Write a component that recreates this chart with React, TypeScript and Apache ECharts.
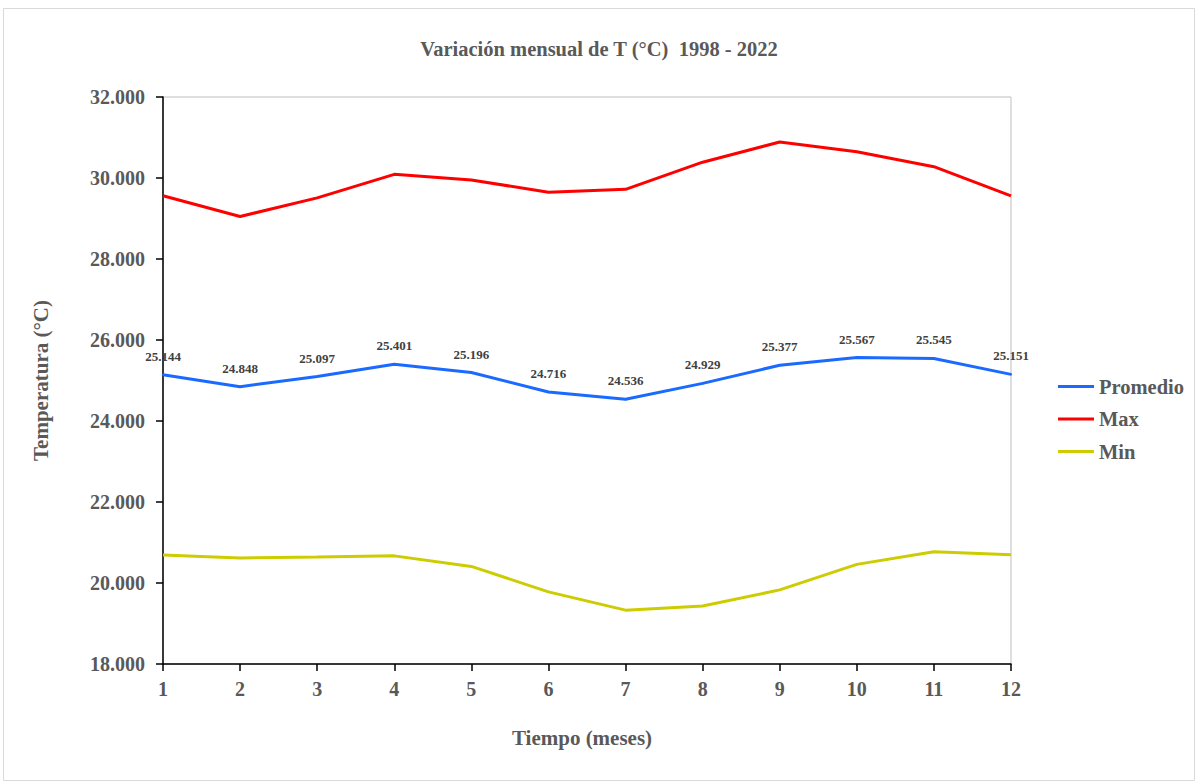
import React, { useEffect, useRef } from "react";
import * as echarts from "echarts";

const months = ["1", "2", "3", "4", "5", "6", "7", "8", "9", "10", "11", "12"];
const promedio = [25.144, 24.848, 25.097, 25.401, 25.196, 24.716, 24.536, 24.929, 25.377, 25.567, 25.545, 25.151];
const maxT = [29.56, 29.05, 29.51, 30.09, 29.95, 29.65, 29.72, 30.39, 30.89, 30.65, 30.28, 29.56];
const minT = [20.69, 20.62, 20.64, 20.67, 20.41, 19.78, 19.33, 19.43, 19.83, 20.46, 20.77, 20.7];

const FONT = "'Times New Roman', 'Liberation Serif', 'DejaVu Serif', serif";
const GRAY = "#595959";

export default function App() {
  const ref = useRef<HTMLDivElement>(null);
  useEffect(() => {
    if (!ref.current) return;
    const chart = echarts.init(ref.current, undefined, { renderer: "svg" });
    chart.setOption({
      animation: false,
      backgroundColor: "#ffffff",
      textStyle: { fontFamily: FONT },
      title: {
        text: "Variación mensual de T (°C)  1998 - 2022",
        left: 594,
        textAlign: "center",
        top: 33,
        textStyle: { fontFamily: FONT, fontWeight: "bold", fontSize: 20.5, color: GRAY },
      },
      graphic: [
        {
          type: "rect",
          shape: { x: 3.5, y: 8.5, width: 1191, height: 772 },
          style: { fill: "none", stroke: "#d9d9d9", lineWidth: 1 },
          silent: true,
        },
      ],
      grid: {
        left: 163,
        right: 189,
        top: 97,
        bottom: 119,
        show: true,
        borderColor: "#bfbfbf",
        borderWidth: 1,
      },
      legend: {
        orient: "vertical",
        left: 1053,
        top: 371,
        itemWidth: 36,
        itemHeight: 3,
        itemGap: 11.5,
        icon: "rect",
        data: ["Promedio", "Max", "Min"],
        textStyle: { fontFamily: FONT, fontWeight: "bold", fontSize: 20.5, color: GRAY },
      },
      xAxis: {
        type: "category",
        data: months,
        boundaryGap: false,
        name: "Tiempo (meses)",
        nameLocation: "middle",
        nameGap: 63,
        nameTextStyle: { fontFamily: FONT, fontWeight: "bold", fontSize: 21, color: GRAY, padding: [0, 10, 0, 0] },
        axisLine: { lineStyle: { color: "#000", width: 1.5 } },
        axisTick: { show: true, length: 7, lineStyle: { color: "#000", width: 1.5 } },
        axisLabel: { fontFamily: FONT, fontWeight: "bold", fontSize: 20, color: GRAY, margin: 15 },
      },
      yAxis: {
        type: "value",
        min: 18,
        max: 32,
        interval: 2,
        name: "Temperatura (°C)",
        nameLocation: "middle",
        nameGap: 112,
        nameRotate: 90,
        nameTextStyle: { fontFamily: FONT, fontWeight: "bold", fontSize: 21, color: GRAY },
        axisLine: { show: true, lineStyle: { color: "#000", width: 1.5 } },
        axisTick: { show: true, length: 7, lineStyle: { color: "#000", width: 1.5 } },
        splitLine: { show: false },
        axisLabel: {
          fontFamily: FONT,
          fontWeight: "bold",
          fontSize: 20,
          color: GRAY,
          margin: 18,
          formatter: (v: number) => v.toFixed(3),
        },
      },
      series: [
        {
          name: "Promedio",
          type: "line",
          data: promedio,
          symbol: "circle",
          symbolSize: 2,
          showSymbol: true,
          showAllSymbol: true,
          lineStyle: { color: "#1a6aff", width: 3 },
          itemStyle: { color: "#1a6aff" },
          label: {
            show: true,
            position: "top",
            distance: 11,
            fontFamily: FONT,
            fontWeight: "bold",
            fontSize: 13,
            color: "#404040",
            formatter: (p: any) => Number(p.value).toFixed(3),
          },
          labelLayout: { hideOverlap: false },
          z: 3,
        },
        {
          name: "Max",
          type: "line",
          data: maxT,
          symbol: "none",
          lineStyle: { color: "#ff0000", width: 3 },
          itemStyle: { color: "#ff0000" },
        },
        {
          name: "Min",
          type: "line",
          data: minT,
          symbol: "none",
          lineStyle: { color: "#cccc00", width: 3 },
          itemStyle: { color: "#cccc00" },
        },
      ],
    });
    return () => chart.dispose();
  }, []);
  return (
    <div
      ref={ref}
      style={{ position: "fixed", left: 0, top: 0, width: 1200, height: 783 }}
    />
  );
}
